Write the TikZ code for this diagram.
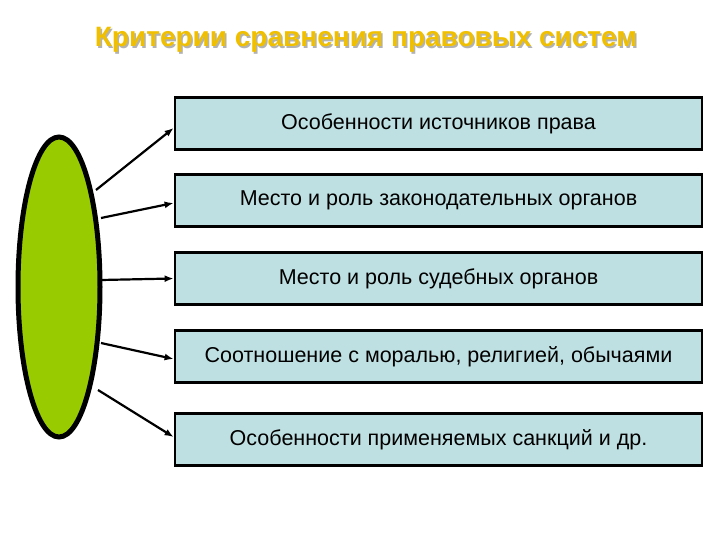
\documentclass[tikz,border=0pt]{standalone}
\usepackage{fontspec}
\setmainfont{Liberation Sans}
\usetikzlibrary{shapes.geometric,arrows.meta}
\definecolor{gold}{HTML}{F0C000}
\definecolor{boxfill}{HTML}{BFE0E2}
\definecolor{lgreen}{HTML}{99CC00}
\begin{document}
\begin{tikzpicture}[x=1pt,y=-1pt,
  crit/.style={draw=black,line width=2.8pt,fill=boxfill,minimum width=527pt,minimum height=52pt,font=\fontsize{21.5}{24}\selectfont,inner sep=0pt},
  arr/.style={-{Latex[length=9pt,width=7pt]},line width=2.2pt}]
\useasboundingbox (0,0) rectangle (720,540);
\node[font=\bfseries\fontsize{28}{30}\selectfont,text=gray!60] at (367.5,41.5) {Критерии сравнения правовых систем};
\node[font=\bfseries\fontsize{28}{30}\selectfont,text=gold] (title) at (366,40) {Критерии сравнения правовых систем};
\node[draw=black,line width=5pt,fill=lgreen,ellipse,minimum width=82pt,minimum height=300pt,inner sep=0pt] (e) at (59,287) {};
\node[crit] (b1) at (438.5,123.5) {Особенности источников права};
\node[crit] (b2) at (438.5,200.5) {Место и роль законодательных органов};
\node[crit] (b3) at (438.5,278.5) {Место и роль судебных органов};
\node[crit] (b4) at (438.5,356.5) {Соотношение с моралью, религией, обычаями};
\node[crit] (b5) at (438.5,439.5) {Особенности применяемых санкций и др.};
\coordinate (s1) at (96,190);
\coordinate (s2) at (101,218);
\coordinate (s3) at (101,280);
\coordinate (s4) at (101,343);
\coordinate (s5) at (98,390);
\draw[arr] (s1) -- (b1.west |- 0,128);
\draw[arr] (s2) -- (b2.west |- 0,203);
\draw[arr] (s3) -- (b3.west);
\draw[arr] (s4) -- (b4.west |- 0,359);
\draw[arr] (s5) -- (b5.west |- 0,437);
\end{tikzpicture}
\end{document}
